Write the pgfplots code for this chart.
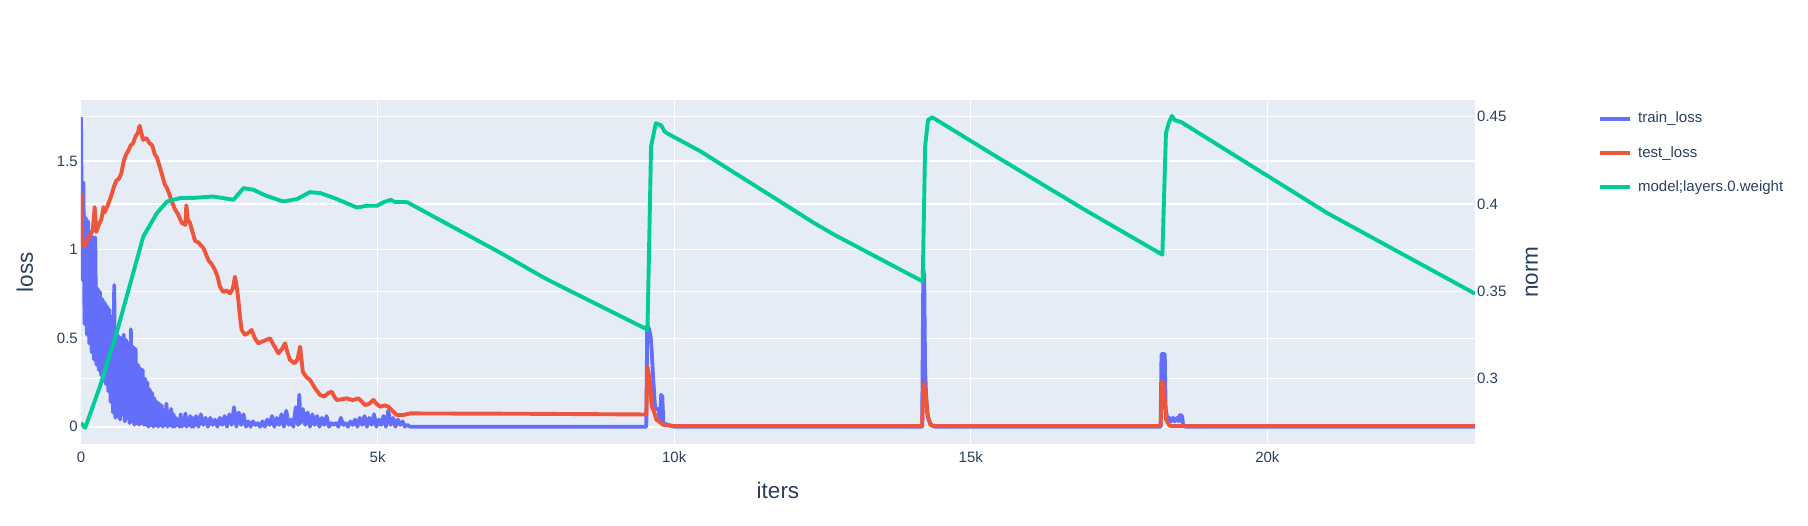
\documentclass[border=0pt]{standalone}
\usepackage{fontspec}
\setmainfont{Liberation Sans}
\usepackage{pgfplots}
\pgfplotsset{compat=1.18}
\definecolor{plotbg}{HTML}{E5ECF6}
\definecolor{fontc}{HTML}{2A3F5F}
\definecolor{trainc}{HTML}{636EFA}
\definecolor{testc}{HTML}{EF553B}
\definecolor{normc}{HTML}{00CC96}
\newcommand{\tickfont}{\fontsize{15pt}{18pt}\selectfont}
\newcommand{\titlefont}{\fontsize{22.5pt}{27pt}\selectfont}
\begin{document}
\begin{tikzpicture}
\begin{axis}[
  set layers,
  scale only axis, width=1394pt, height=344pt,
  xmin=0, xmax=23500, ymin=-0.0977, ymax=1.845,
  scaled x ticks=false, scaled y ticks=false,
  axis background/.style={fill=plotbg},
  axis line style={draw=none},
  major tick length=0pt, tick style={draw=none},
  xtick={5000,10000,15000,20000}, xticklabels={5k,10k,15k,20k},
  extra x ticks={0}, extra x tick labels={0}, extra x tick style={grid=none},
  ytick={0.5,1,1.5}, yticklabels={0.5,1,1.5},
  extra y ticks={0}, extra y tick labels={0},
  extra y tick style={grid=major, major grid style={white, line width=2.2pt}},
  grid=major, major grid style={white, line width=1.2pt},
  xticklabel style={font=\tickfont, text=fontc, inner sep=0pt, anchor=north, yshift=-7.5pt},
  yticklabel style={font=\tickfont, text=fontc, inner sep=0pt, anchor=east, xshift=-3pt},
  xlabel={iters}, ylabel={loss},
  xlabel style={at={(axis description cs:0.5,-0.1337)}, anchor=center, font=\titlefont, text=fontc},
  ylabel style={at={(axis description cs:-0.0402,0.5)}, anchor=center, font=\titlefont, text=fontc},
]
\addplot[trainc, line width=3.8pt, line join=round] coordinates {
(0,1.75) (20,0.83) (40,1.38) (60,0.58) (80,1.18) (100,0.52) (120,1.16) (140,0.47) (160,1.10) (180,0.42)
(200,1.07) (220,0.38) (240,1.07) (260,0.35) (280,0.78) (300,0.32) (320,0.76) (340,0.29) (360,0.72) (380,0.26)
(400,0.70) (420,0.24) (440,0.68) (460,0.20) (480,0.66) (500,0.14) (520,0.62) (540,0.08) (560,0.80) (580,0.05)
(600,0.53) (620,0.06) (640,0.51) (660,0.04) (680,0.50) (700,0.07) (720,0.52) (740,0.03) (760,0.49) (780,0.05)
(800,0.47) (820,0.02) (840,0.55) (860,0.03) (880,0.45) (900,0.01) (920,0.44) (940,0.02) (960,0.35) (980,0.01)
(1000,0.33) (1020,0.02) (1040,0.32) (1060,0.01) (1080,0.27) (1100,0.01) (1120,0.25) (1140,0.00) (1160,0.21) (1180,0.01)
(1200,0.19) (1220,0.00) (1240,0.16) (1260,0.01) (1280,0.14) (1300,0.00) (1320,0.13) (1340,0.01) (1360,0.12) (1380,0.00)
(1400,0.09) (1420,0.01) (1440,0.13) (1460,0.00) (1480,0.08) (1500,0.01) (1520,0.10) (1540,0.00) (1560,0.07) (1580,0.00)
(1600,0.05) (1620,0.01) (1640,0.04) (1660,0.00) (1680,0.07) (1700,0.00) (1720,0.05) (1740,0.01) (1760,0.075) (1780,0.00)
(1800,0.04) (1820,0.01) (1840,0.06) (1860,0.00) (1880,0.05) (1900,0.00)
(1940,0.06) (1980,0.00) (2020,0.07) (2060,0.01) (2100,0.05) (2140,0.00) (2180,0.05) (2220,0.01) (2260,0.04) (2300,0.00)
(2340,0.05) (2380,0.01) (2420,0.06) (2460,0.00) (2500,0.07) (2540,0.01) (2580,0.11) (2620,0.00) (2660,0.08) (2700,0.01)
(2740,0.07) (2780,0.00) (2820,0.03) (2860,0.00) (2900,0.03) (2940,0.01) (2980,0.02) (3020,0.00) (3060,0.03) (3100,0.00)
(3140,0.04) (3180,0.01) (3220,0.06) (3260,0.00) (3300,0.05) (3340,0.01) (3380,0.07) (3420,0.00) (3460,0.09) (3500,0.01)
(3540,0.04) (3580,0.00) (3620,0.11) (3660,0.01) (3680,0.18) (3700,0.02) (3740,0.10) (3780,0.01) (3820,0.08) (3860,0.00)
(3900,0.07) (3940,0.01) (3980,0.06) (4020,0.00) (4060,0.05) (4100,0.01) (4140,0.06) (4180,0.00) (4220,0.02) (4260,0.01)
(4300,0.02) (4340,0.00) (4380,0.05) (4420,0.01) (4460,0.02) (4500,0.00) (4540,0.03) (4580,0.01) (4620,0.04) (4660,0.00)
(4700,0.05) (4740,0.01) (4780,0.06) (4820,0.00) (4860,0.05) (4900,0.01) (4940,0.07) (4980,0.00) (5020,0.04) (5060,0.01)
(5100,0.06) (5140,0.00) (5180,0.09) (5220,0.01) (5260,0.05) (5300,0.00) (5340,0.04) (5380,0.01) (5420,0.03) (5460,0.00)
(5500,0.01) (5550,0.0)
(9530,0.0) (9545,0.57) (9580,0.55) (9605,0.50) (9622,0.42) (9650,0.25) (9678,0.11) (9700,0.10) (9734,0.10) (9760,0.03)
(9780,0.18) (9800,0.17) (9818,0.02) (9900,0.01) (10000,0.0)
(14180,0.0) (14200,0.89) (14215,0.85) (14230,0.32) (14258,0.09) (14290,0.04) (14314,0.02) (14350,0.005) (14400,0.0)
(18200,0.0) (18215,0.41) (18270,0.41) (18285,0.10) (18304,0.066) (18330,0.03) (18350,0.05) (18380,0.03) (18410,0.05) (18440,0.03)
(18480,0.05) (18510,0.03) (18525,0.066) (18560,0.06) (18580,0.01) (18620,0.0) (23500,0.0)
};
\addplot[testc, line width=3.9pt, line join=round] coordinates {
(0,1.32) (20,1.05) (40,1.02) (60,1.02) (100,1.05) (150,1.08) (200,1.11) (230,1.24) (258,1.10) (300,1.14)
(343,1.17) (380,1.24) (400,1.21) (450,1.25) (506,1.30) (560,1.36) (596,1.39) (640,1.40) (680,1.43) (720,1.50)
(764,1.54) (800,1.56) (840,1.59) (877,1.60) (920,1.64) (960,1.66) (989,1.70) (1010,1.67) (1045,1.62) (1100,1.63)
(1158,1.60) (1200,1.59) (1242,1.54) (1280,1.52) (1326,1.47) (1370,1.42) (1410,1.37) (1460,1.34) (1523,1.28) (1580,1.23)
(1635,1.20) (1700,1.15) (1760,1.14) (1776,1.25) (1800,1.17) (1838,1.15) (1880,1.10) (1922,1.05) (1980,1.04) (2062,1.01)
(2100,0.98) (2147,0.94) (2200,0.92) (2259,0.885) (2300,0.85) (2343,0.79) (2400,0.76) (2450,0.77) (2512,0.753) (2560,0.78)
(2596,0.847) (2630,0.78) (2653,0.715) (2680,0.62) (2709,0.546) (2765,0.518) (2820,0.53) (2877,0.546) (2930,0.50) (2990,0.471)
(3050,0.48) (3120,0.49) (3187,0.499) (3250,0.46) (3328,0.414) (3390,0.44) (3440,0.471) (3480,0.42) (3524,0.377) (3600,0.358)
(3650,0.38) (3693,0.452) (3740,0.31) (3800,0.28) (3861,0.264) (3946,0.217) (4030,0.179) (4100,0.17) (4170,0.19) (4227,0.198)
(4270,0.17) (4312,0.151) (4400,0.155) (4480,0.16) (4580,0.15) (4677,0.16) (4740,0.14) (4790,0.122) (4860,0.13) (4930,0.151)
(4980,0.13) (5042,0.113) (5120,0.12) (5183,0.113) (5250,0.09) (5323,0.066) (5436,0.066) (5548,0.075)
(7500,0.073) (9530,0.069) (9549,0.339) (9580,0.28) (9594,0.245) (9622,0.113) (9650,0.094) (9700,0.04) (9818,0.01) (10000,0.004)
(14180,0.004) (14202,0.245) (14236,0.21) (14275,0.06) (14320,0.01) (14400,0.004)
(18200,0.004) (18220,0.254) (18250,0.24) (18293,0.04) (18350,0.006) (18400,0.004) (23500,0.004)
};
\end{axis}
\begin{axis}[
  set layers,
  scale only axis, width=1394pt, height=344pt,
  xmin=0, xmax=23500, ymin=0.2627, ymax=0.4595,
  scaled x ticks=false, scaled y ticks=false,
  axis x line=none, axis y line*=right,
  axis line style={draw=none}, tick style={draw=none}, major tick length=0pt,
  ytick={0.3,0.35,0.4,0.45}, yticklabels={0.3,0.35,0.4,0.45},
  ymajorgrids, major grid style={white, line width=1.2pt},
  yticklabel style={font=\tickfont, text=fontc, inner sep=0pt, anchor=west, xshift=2pt},
  ylabel={norm},
  ylabel style={at={(axis description cs:1.0409,0.5)}, anchor=center, font=\titlefont, text=fontc},
  legend style={at={(1.0882,0.9660)}, anchor=north west, draw=none, fill=none, inner sep=0pt,
    row sep=20.2pt, column sep=6pt, font=\tickfont,
    nodes={inner sep=0pt, text height=11pt, text depth=3pt, text=fontc}},
  legend cell align=left,
  legend image code/.code={\draw[#1, line width=4pt] (0pt,0pt) -- (30pt,0pt);},
]
\addlegendimage{trainc}
\addlegendentry{train\_loss}
\addlegendimage{testc}
\addlegendentry{test\_loss}
\addplot[normc, line width=3.9pt, line join=round] coordinates {
(0,0.2748) (70,0.2719) (320,0.2957) (600,0.3262) (880,0.3605) (1050,0.3814) (1280,0.3948) (1450,0.4014) (1670,0.4034) (1900,0.4035)
(2230,0.4043) (2570,0.4024) (2740,0.4091) (2910,0.4081) (3100,0.4050) (3410,0.4014) (3640,0.4028) (3860,0.4068) (4040,0.4062) (4300,0.4030)
(4650,0.3980) (4820,0.3990) (4990,0.3990) (5100,0.4010) (5220,0.4024) (5300,0.4010) (5390,0.4012) (5500,0.4010)
(7080,0.3719) (7810,0.3577) (9550,0.3281) (9610,0.4329) (9690,0.4462) (9780,0.4450) (9840,0.4414) (9890,0.4403)
(10450,0.4300) (12360,0.3891) (12700,0.3824) (14190,0.3557) (14230,0.4329) (14280,0.4481) (14350,0.4496)
(15520,0.4253) (16920,0.3967) (18230,0.3710) (18290,0.4405) (18340,0.4465) (18390,0.4504) (18440,0.4480) (18550,0.4468)
(21010,0.3948) (23500,0.3487)
};
\addlegendentry{model;layers.0.weight}
\end{axis}
\pgfresetboundingbox
\path[use as bounding box] (-81pt,-81pt) rectangle (1727pt,444pt);
\end{tikzpicture}
\end{document}
